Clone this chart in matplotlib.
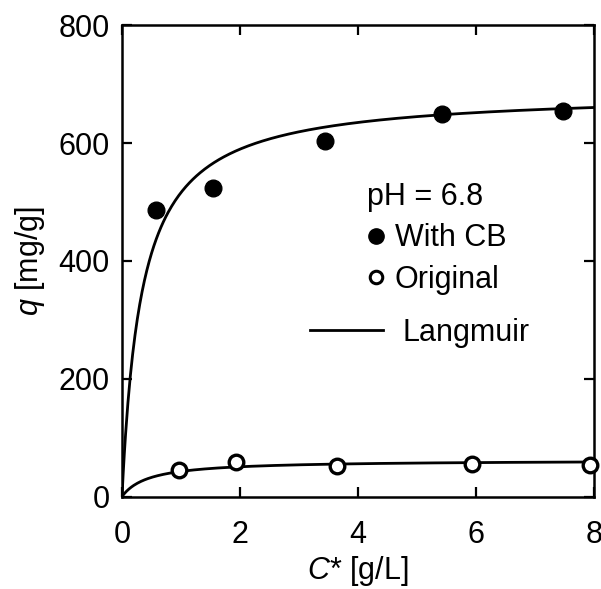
import numpy as np
import matplotlib
matplotlib.use('Agg')
import matplotlib.pyplot as plt
from matplotlib.lines import Line2D

plt.rcParams['font.family'] = ['Liberation Sans', 'DejaVu Sans']
plt.rcParams['mathtext.fontset'] = 'custom'
plt.rcParams['mathtext.it'] = 'Liberation Sans:italic'
plt.rcParams['mathtext.rm'] = 'Liberation Sans'

c_cb = [0.58, 1.54, 3.45, 5.42, 7.48]
q_cb = [486, 524, 603, 650, 655]
c_orig = [0.96, 1.94, 3.64, 5.94, 7.94]
q_orig = [45, 58, 52, 55, 54]

# Langmuir fit parameters q = qm*K*C/(1+K*C)
qm_cb, k_cb = 688, 3.0
qm_orig, k_orig = 62, 2.2

FS = 22


def langmuir(c, qm, k):
    return qm * k * c / (1 + k * c)


fig = plt.figure(figsize=(6.01, 5.89), dpi=100)
ax = fig.add_axes([0.203, 0.157, 0.785, 0.800])

cc = np.linspace(0, 8, 400)
ax.plot(cc, langmuir(cc, qm_cb, k_cb), color='black', lw=2.0, zorder=2)
ax.plot(cc, langmuir(cc, qm_orig, k_orig), color='black', lw=2.0, zorder=2)
ax.plot(c_cb, q_cb, 'o', color='black', ms=12, ls='none', zorder=3, clip_on=False)
ax.plot(c_orig, q_orig, 'o', mfc='white', mec='black', mew=2.4, ms=10.5, ls='none',
        zorder=3, clip_on=False)

ax.set_xlim(0, 8)
ax.set_ylim(0, 800)
ax.set_xticks([0, 2, 4, 6, 8])
ax.set_yticks([0, 200, 400, 600, 800])
ax.tick_params(direction='in', length=7, width=1.6, top=True, right=True,
               labelsize=FS)
ax.tick_params(axis='y', pad=9)
ax.tick_params(axis='x', pad=17)
for sp in ax.spines.values():
    sp.set_linewidth(1.8)

ax.set_xlabel(r'$\it{C}$* [g/L]', fontsize=FS, labelpad=3)
ax.set_ylabel(r'$\it{q}$ [mg/g]', fontsize=FS, labelpad=8)

h1 = [Line2D([], [], marker='o', color='black', ls='none', ms=11),
      Line2D([], [], marker='o', mfc='white', mec='black', mew=2.2, ls='none', ms=9)]
leg1 = ax.legend(h1, ['With CB', 'Original'], title='pH = 6.8', title_fontsize=FS,
                 fontsize=FS, frameon=False, handlelength=0.55, handletextpad=0.35,
                 labelspacing=0.38, loc='upper left', bbox_to_anchor=(0.508, 0.680),
                 borderpad=0.18, borderaxespad=0, alignment='left')
ax.add_artist(leg1)
h2 = [Line2D([], [], color='black', lw=2.0)]
ax.legend(h2, ['Langmuir'], fontsize=FS, frameon=False, handlelength=2.4,
          handletextpad=0.65, loc='upper left', bbox_to_anchor=(0.398, 0.379),
          borderpad=0, borderaxespad=0)

fig.savefig('out.png', dpi=100)
